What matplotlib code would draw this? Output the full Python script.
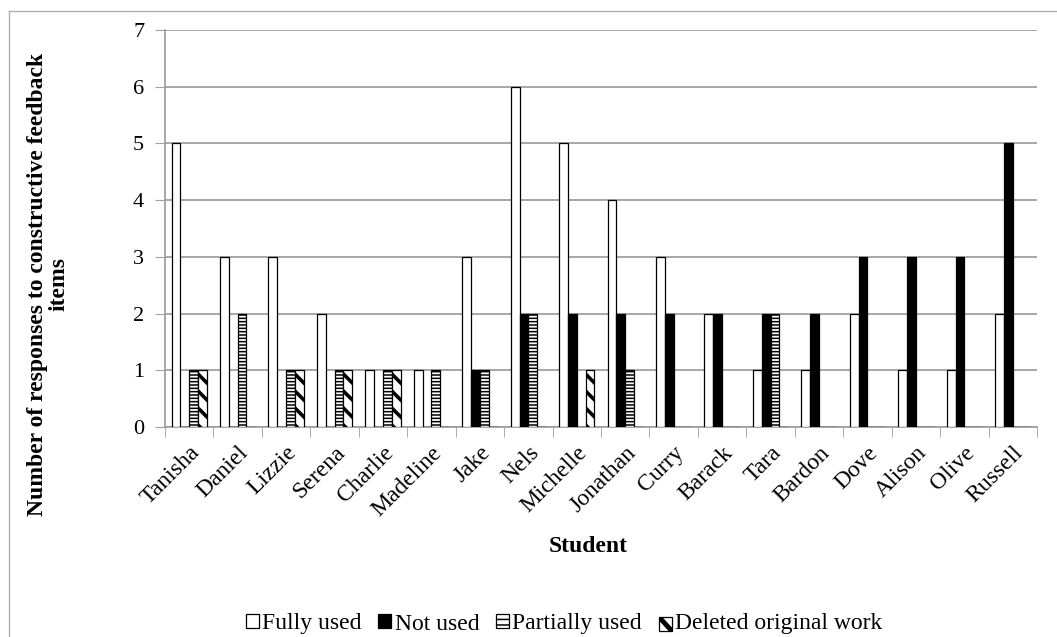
import numpy as np
import matplotlib.pyplot as plt
from matplotlib.lines import Line2D
from matplotlib.patches import Patch, Rectangle
from matplotlib.legend_handler import HandlerBase
from matplotlib.transforms import IdentityTransform

plt.rcParams['font.family'] = ['Liberation Serif', 'DejaVu Serif']
plt.rcParams['hatch.linewidth'] = 1.1

students = ["Tanisha", "Daniel", "Lizzie", "Serena", "Charlie", "Madeline", "Jake",
            "Nels", "Michelle", "Jonathan", "Curry", "Barack", "Tara", "Bardon",
            "Dove", "Alison", "Olive", "Russell"]
fully_used = [5, 3, 3, 2, 1, 1, 3, 6, 5, 4, 3, 2, 1, 1, 2, 1, 1, 2]
not_used = [0, 0, 0, 0, 0, 0, 1, 2, 2, 2, 2, 2, 2, 2, 3, 3, 3, 5]
partially_used = [1, 2, 1, 1, 1, 1, 1, 2, 0, 1, 0, 0, 2, 0, 0, 0, 0, 0]
deleted = [1, 0, 1, 1, 1, 0, 0, 0, 1, 0, 0, 0, 0, 0, 0, 0, 0, 0]

labels = ["Fully used", "Not used", "Partially used", "Deleted original work"]
values = [fully_used, not_used, partially_used, deleted]
faces = ["white", "black", "white", "white"]
hatches = [None, None, "-----", None]

W, H = 1057, 637
fig = plt.figure(figsize=(W / 100, H / 100), dpi=100)
ax = fig.add_axes([165 / W, 1 - 427 / H, 872 / W, 397 / H])

ax.set_xlim(-0.5, len(students) - 0.5)
ax.set_ylim(0, 7)

x = np.arange(len(students))
w = 1 / 5.5
offsets = (np.arange(4) - 1.5) * w
containers = []
for vals, fc, hatch, off in zip(values, faces, hatches, offsets):
    containers.append(ax.bar(x + off, vals, width=w, facecolor=fc, hatch=hatch,
                             edgecolor="black", linewidth=0.9, zorder=3))

# thick backslash stripes for "Deleted original work", clipped to each bar
step, stripe_lw = 17, 2.6
for b in containers[3]:
    if b.get_height() == 0:
        continue
    bb = b.get_window_extent()
    y = bb.y0 - bb.width
    while y < bb.y1 + bb.width:
        ln = Line2D([bb.x0 - 2, bb.x1 + 2], [y + bb.width + 4, y], color="black",
                    linewidth=stripe_lw, transform=IdentityTransform(), zorder=4)
        ln.set_clip_path(b)
        fig.add_artist(ln)
        y += step

ax.set_yticks(range(8))
ax.yaxis.grid(True, color="#a0a0a0", linewidth=1.3, zorder=0)
ax.tick_params(axis="y", labelsize=16, length=7, color="#a0a0a0", pad=8)

ax.set_xticks(x)
ax.set_xticklabels(students, rotation=45, ha="right", rotation_mode="anchor", fontsize=17)
ax.tick_params(axis="x", which="major", length=0, pad=11)
ax.set_xticks(np.arange(len(students) + 1) - 0.5, minor=True)
ax.tick_params(axis="x", which="minor", length=7, color="#a0a0a0")

for s in ["top", "right"]:
    ax.spines[s].set_visible(False)
for s in ["left", "bottom"]:
    ax.spines[s].set_color("#a0a0a0")
    ax.spines[s].set_linewidth(1.3)

fig.text(48 / W, 1 - 284 / H, "Number of responses to constructive feedback\nitems",
         rotation=90, ha="center", va="center", fontsize=17, fontweight="bold",
         linespacing=1.0)
fig.text(588 / W, 1 - 546 / H, "Student", ha="center", va="center",
         fontsize=17, fontweight="bold")


class StripeKey(HandlerBase):
    def create_artists(self, legend, orig, xd, yd, width, height, fontsize, trans):
        box = Rectangle((xd, yd), width, height, facecolor="white", edgecolor="black",
                        linewidth=0.9, transform=trans)
        ln = Line2D([xd, xd + width], [yd + height, yd], color="black",
                    linewidth=3.5, transform=trans)
        ln.set_clip_path(box)
        return [box, ln]


handles = [
    Patch(facecolor="white", edgecolor="black", linewidth=0.9),
    Patch(facecolor="black", edgecolor="black", linewidth=0.9),
    Patch(facecolor="white", edgecolor="black", linewidth=0.9, hatch="---"),
    Patch(facecolor="white", edgecolor="black", linewidth=0.9),
]
fig.legend(handles, labels, loc="center", bbox_to_anchor=(564 / W, 1 - 624 / H),
           ncol=4, frameon=False, fontsize=17, handlelength=0.55, handleheight=0.55,
           handletextpad=0.15, columnspacing=0.7, borderpad=0,
           handler_map={handles[3]: StripeKey()})

# chart area outline (top and left edges)
fig.add_artist(Line2D([9 / W, 9 / W], [0, 1 - 11 / H], transform=fig.transFigure,
                      color="#b0b0b0", linewidth=1))
fig.add_artist(Line2D([9 / W, 1], [1 - 11 / H, 1 - 11 / H], transform=fig.transFigure,
                      color="#b0b0b0", linewidth=1))

fig.savefig("out.png", dpi=100)
